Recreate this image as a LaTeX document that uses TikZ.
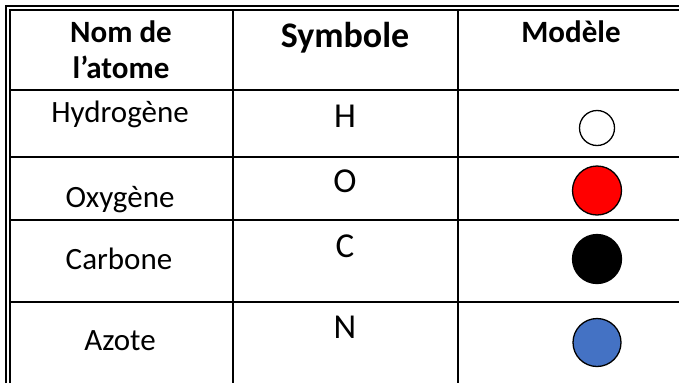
\documentclass[tikz,border=0pt]{standalone}
\usepackage{fontspec}
\setmainfont{Carlito}
\definecolor{nblue}{RGB}{68,114,196}
\begin{document}
\begin{tikzpicture}[x=1pt,y=-1pt,
  rule/.style={line width=2pt},
  head/.style={font=\fontsize{31}{37}\selectfont\bfseries, anchor=base, inner sep=0pt},
  cell/.style={font=\fontsize{31}{37}\selectfont, anchor=base, inner sep=0pt},
  sym/.style={font=\fontsize{35}{42}\selectfont, anchor=base, inner sep=0pt},
  atom/.style={circle, draw, line width=1.3pt, inner sep=0pt}]

\useasboundingbox (0,0) rectangle (679,383);

%frame
\draw[rule] (5.7,383) -- (5.7,5.7) -- (679,5.7);
\draw[rule] (9.5,383) -- (9.5,9.5) -- (679,9.5);

%columns
\draw[rule] (233,9.5) -- (233,383);
\draw[rule] (458,9.5) -- (458,383);

%rows
\draw[rule] (9.5,90) -- (679,90);
\draw[rule] (9.5,157) -- (679,157);
\draw[rule] (9.5,220) -- (679,220);
\draw[rule] (9.5,302) -- (679,302);

%header
\node[head] (nom) at (121,42) {Nom de};
\node[head] (atome) at (121,78) {l’atome};
\node[head, font=\fontsize{36}{43}\selectfont\bfseries] (symb) at (345,47) {Symbole};
\node[head] (mod) at (571,42) {Modèle};

%names
\node[cell] (hyd) at (120,122) {Hydrogène};
\node[cell] (oxy) at (120,207) {Oxygène};
\node[cell] (car) at (119,269) {Carbone};
\node[cell] (azo) at (120,350) {Azote};

%symbols
\node[sym] (h) at (345,127) {H};
\node[sym] (o) at (345,192) {O};
\node[sym] (c) at (345,257) {C};
\node[sym] (n) at (345,338) {N};

%models
\node[atom, minimum size=35pt] (hmod) at (597,128) {};
\node[atom, fill=red, minimum size=49pt] (omod) at (597,190.5) {};
\node[atom, fill=black, minimum size=49pt] (cmod) at (597,259) {};
\node[atom, fill=nblue, minimum size=48pt] (nmod) at (597,342.5) {};

\end{tikzpicture}
\end{document}
